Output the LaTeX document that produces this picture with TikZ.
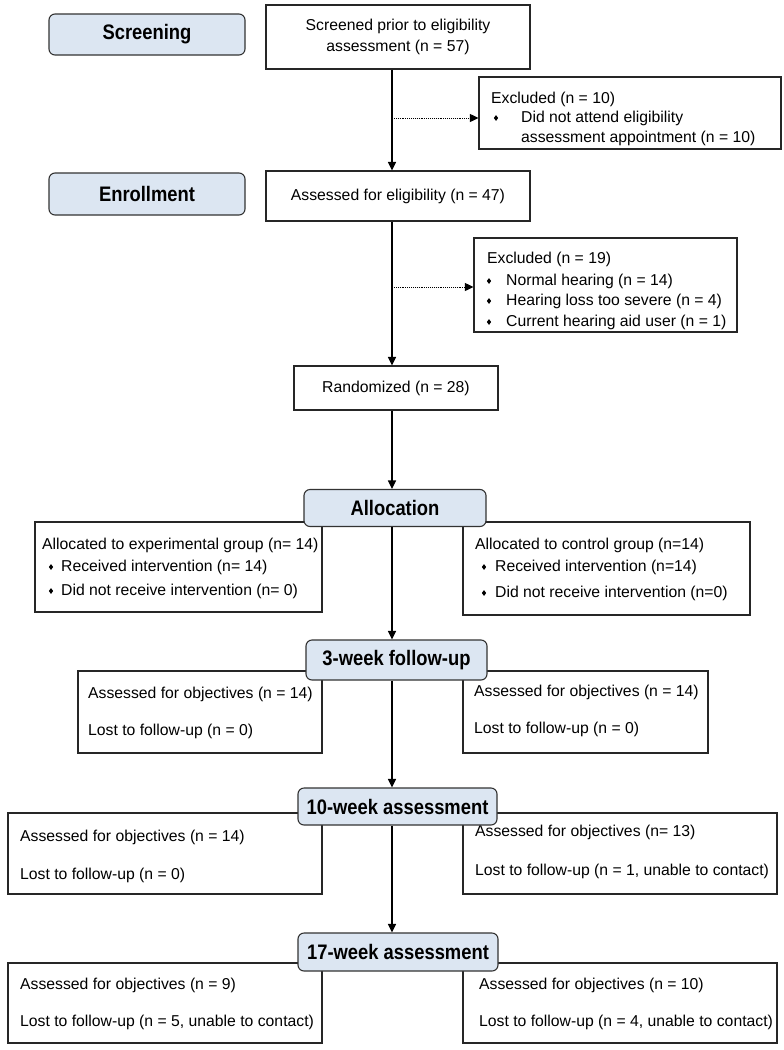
\documentclass[tikz,border=0pt]{standalone}
\usepackage{fontspec}
\setmainfont{Liberation Sans}
\newfontfamily\labfont[FakeStretch=0.875]{Liberation Sans Bold}
\usetikzlibrary{arrows.meta,shapes.geometric}
\definecolor{labblue}{RGB}{220,230,242}
\tikzset{
 box/.style={draw=black!85, line width=1.1pt, fill=white, inner sep=0pt},
 lab/.style={draw=black!80, line width=1.1pt, fill=labblue, rounded corners=6pt, inner sep=0pt, font=\labfont\fontsize{21}{24}\selectfont},
 txt/.style={anchor=west, inner sep=0pt, text height=11.5pt, text depth=3.3pt},
 bul/.style={diamond, fill=black, inner sep=0pt, minimum width=4.5pt, minimum height=6pt},
 arr/.style={line width=1.1pt, -{Triangle[length=8.5pt,width=8pt]}},
 darr/.style={line width=0.9pt, densely dotted, -{Triangle[length=8.5pt,width=8pt]}},
}
\begin{document}
\begin{tikzpicture}[x=1pt,y=-1pt,font=\fontsize{15.75}{21}\selectfont]
\useasboundingbox (0,0) rectangle (784,1050);
\coordinate (ax) at (392,0);
\coordinate (d1) at (392,118);
\coordinate (d2) at (392,287);

% boxes
\node[box, align=center, minimum width=264, minimum height=64] (scr) at (398,37) {Screened prior to eligibility\\assessment (n = 57)};
\node[box, minimum width=302, minimum height=72] (exc1) at (630,113) {};
\node[box, minimum width=264, minimum height=50] (ass) at (398,196) {Assessed for eligibility (n = 47)};
\node[box, minimum width=263, minimum height=94] (exc2) at (605.5,285) {};
\node[box, minimum width=204, minimum height=44] (rnd) at (396,388) {Randomized (n = 28)};
\node[box, minimum width=287, minimum height=90] (allL) at (178.5,567) {};
\node[box, minimum width=287, minimum height=93] (allR) at (606.5,568.5) {};
\node[box, minimum width=244, minimum height=82] (w3L) at (200,712) {};
\node[box, minimum width=245, minimum height=82] (w3R) at (585.5,712) {};
\node[box, minimum width=314, minimum height=81] (w10L) at (165,853.5) {};
\node[box, minimum width=314, minimum height=81] (w10R) at (620,853.5) {};
\node[box, minimum width=314, minimum height=80] (w17L) at (165,1003) {};
\node[box, minimum width=314, minimum height=80] (w17R) at (620,1003) {};

% texts
\node[txt] (e1a) at (491,99) {Excluded (n = 10)};
\node[bul] (e1b) at (496,118) {};
\node[txt] (e1c) at (521,118) {Did not attend eligibility};
\node[txt] (e1d) at (521,138) {assessment appointment (n = 10)};

\node[txt] (e2a) at (487,259) {Excluded (n = 19)};
\node[bul] (e2b1) at (489,281) {};
\node[bul] (e2b2) at (489,301) {};
\node[bul] (e2b3) at (489,322) {};
\node[txt] (e2c) at (506,281) {Normal hearing (n = 14)};
\node[txt] (e2d) at (506,301) {Hearing loss too severe (n = 4)};
\node[txt] (e2e) at (506,322) {Current hearing aid user (n = 1)};

\node[txt] (aLa) at (42,545) {Allocated to experimental group (n= 14)};
\node[bul] (aLb1) at (51,567) {};
\node[bul] (aLb2) at (51,591) {};
\node[txt] (aLc) at (61,567) {Received intervention (n= 14)};
\node[txt] (aLd) at (61,591) {Did not receive intervention (n= 0)};

\node[txt] (aRa) at (475,545) {Allocated to control group (n=14)};
\node[bul] (aRb1) at (484,567) {};
\node[bul] (aRb2) at (484,593) {};
\node[txt] (aRc) at (495,567) {Received intervention (n=14)};
\node[txt] (aRd) at (495,593) {Did not receive intervention (n=0)};

\node[txt] (t3La) at (88,694) {Assessed for objectives (n = 14)};
\node[txt] (t3Lb) at (88,731) {Lost to follow-up (n = 0)};
\node[txt] (t3Ra) at (474,692) {Assessed for objectives (n = 14)};
\node[txt] (t3Rb) at (474,729) {Lost to follow-up (n = 0)};

\node[txt] (t10La) at (20,837) {Assessed for objectives (n = 14)};
\node[txt] (t10Lb) at (20,875) {Lost to follow-up (n = 0)};
\node[txt] (t10Ra) at (475,832) {Assessed for objectives (n= 13)};
\node[txt] (t10Rb) at (475,871) {Lost to follow-up (n = 1, unable to contact)};

\node[txt] (t17La) at (20,985) {Assessed for objectives (n = 9)};
\node[txt] (t17Lb) at (20,1022) {Lost to follow-up (n = 5, unable to contact)};
\node[txt] (t17Ra) at (479,985) {Assessed for objectives (n = 10)};
\node[txt] (t17Rb) at (479,1022) {Lost to follow-up (n = 4, unable to contact)};

% labels
\node[lab, minimum width=196, minimum height=41] (lscr) at (147,34.5) {Screening};
\node[lab, minimum width=196, minimum height=42] (lenr) at (147,194) {Enrollment};
\node[lab, minimum width=182, minimum height=37] (lall) at (395,508) {Allocation};
\node[lab, minimum width=181, minimum height=40] (l3) at (396.5,660) {3-week follow-up};
\node[lab, minimum width=199, minimum height=37] (l10) at (397.5,806.5) {10-week assessment};
\node[lab, minimum width=200, minimum height=38] (l17) at (398,952) {17-week assessment};

% connectors
\draw[arr] (scr.south -| ax) -- (ass.north -| ax);
\draw[arr] (ass.south -| ax) -- (rnd.north -| ax);
\draw[arr] (rnd.south -| ax) -- (lall.north -| ax);
\draw[arr] (lall.south -| ax) -- (l3.north -| ax);
\draw[arr] (l3.south -| ax) -- (l10.north -| ax);
\draw[arr] (l10.south -| ax) -- (l17.north -| ax);
\draw[darr] (d1) -- (d1 -| exc1.west);
\draw[darr] (d2) -- (d2 -| exc2.west);
\end{tikzpicture}
\end{document}
